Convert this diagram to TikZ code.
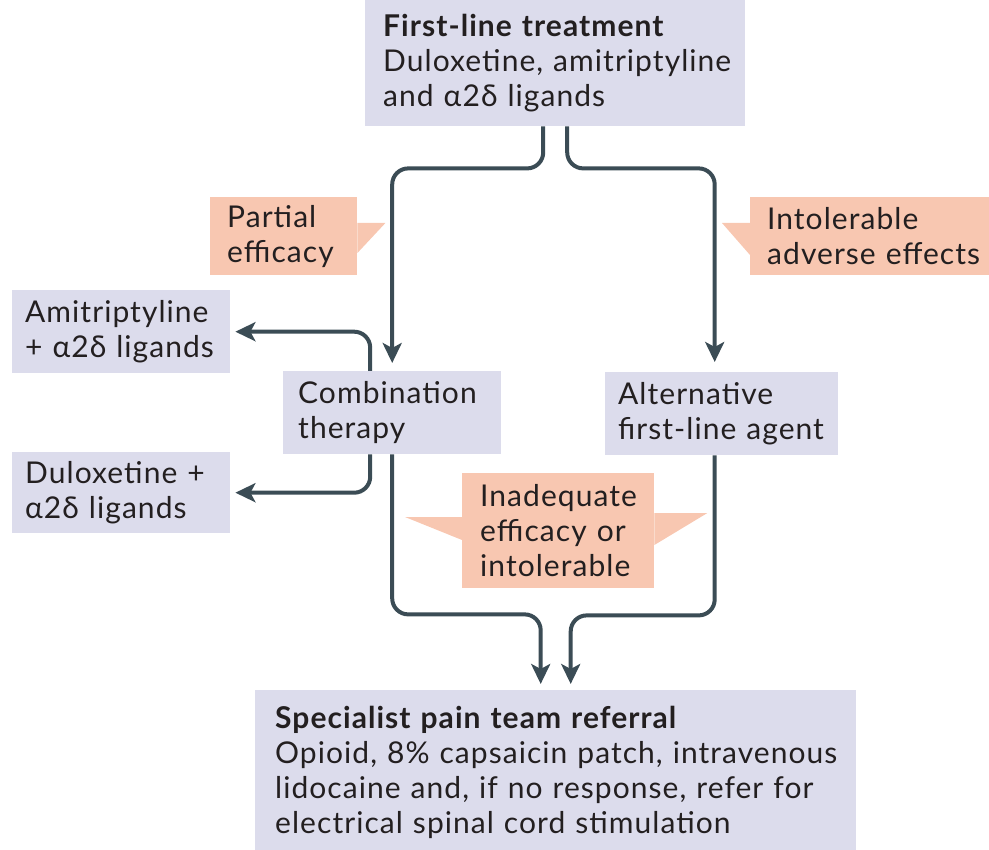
\documentclass[tikz,border=0pt]{standalone}
\usepackage{fontspec}
\setmainfont[LetterSpace=3.5]{Lato}
\usetikzlibrary{arrows.meta}
\definecolor{boxfill}{HTML}{DCDCEC}
\definecolor{notefill}{HTML}{F8C7B1}
\definecolor{linecol}{HTML}{3B4C55}
\definecolor{textcol}{HTML}{231F20}
\tikzset{
flow/.style={line width=4pt, draw=linecol, rounded corners=16pt,
  -{Stealth[length=20pt, width=19pt, inset=5pt]}}, % thick dark connectors
box/.style={fill=boxfill}, % lavender step boxes
note/.style={fill=notefill}, % salmon flags with a pointer
}

\begin{document}
\begin{tikzpicture}[
  x=1pt, y=-1pt,
  every node/.style={text=textcol, font=\fontsize{30}{35}\selectfont,
    inner xsep=15pt, inner ysep=0pt, align=left, anchor=north west,
    execute at begin node={\rightskip=0pt plus 1fil minus 40pt}} % lines may run a bit long, never break
]
  \useasboundingbox (0,0) rectangle (989,850);

  % step boxes
  \node[box, minimum width=380pt, minimum height=126pt, text width=344pt, inner xsep=18pt] (first) at (365,0)
    {\textbf{First-line treatment}\\Duloxetine, amitriptyline\\and α2δ ligands};
  \node[box, minimum width=218pt, minimum height=83pt, text width=192pt, inner xsep=13pt] (ami) at (12,290)
    {Amitriptyline\\+ α2δ ligands};
  \node[box, minimum width=218pt, minimum height=81pt, text width=192pt, inner xsep=13pt] (dul) at (12,452)
    {Duloxetine +\\α2δ ligands};
  \node[box, minimum width=218pt, minimum height=83pt, text width=188pt] (combo) at (283,371)
    {Combination\\therapy};
  \node[box, minimum width=233pt, minimum height=83pt, text width=207pt, inner xsep=13pt] (alt) at (605,372)
    {Alternative\\first-line agent};
  \node[box, minimum width=601pt, minimum height=165pt, text width=561pt, inner xsep=20pt] (spec) at (255,690)
    {\textbf{Specialist pain team referral}\\Opioid, 8\% capsaicin patch, intravenous\\lidocaine and, if no response, refer for\\electrical spinal cord stimulation};

  % flags
  \node[note, minimum width=147pt, minimum height=78pt, text width=113pt, inner xsep=17pt] (partial) at (210,197)
    {Partial\\efficacy};
  \fill[notefill] ([yshift=-26pt]partial.north east) -- ++(28,0) -- ([yshift=-56pt]partial.north east) -- cycle;

  \node[note, minimum width=239pt, minimum height=78pt, text width=205pt, inner xsep=17pt] (intol) at (750,197)
    {Intolerable\\adverse effects};
  \fill[notefill] ([yshift=-26pt]intol.north west) -- ++(-28,0) -- ([yshift=-58pt]intol.north west) -- cycle;

  \node[note, minimum width=192pt, minimum height=115pt, text width=156pt, inner xsep=18pt] (inadeq) at (462,473)
    {Inadequate\\efficacy or\\intolerable};
  \fill[notefill] ([yshift=-44pt]inadeq.north west) -- ++(-57,0) -- ([yshift=-67pt]inadeq.north west) -- cycle;
  \fill[notefill] ([yshift=-40pt]inadeq.north east) -- ++(53,0) -- ([yshift=-72pt]inadeq.north east) -- cycle;

  % connectors
  \draw[flow, shorten >=8pt] ([xshift=-12pt]first.south) -- ++(0,42) -| (combo.north);
  \draw[flow, shorten >=10pt] ([xshift=12pt]first.south) -- ++(0,42) -| ([xshift=-7pt]alt.north);
  \draw[flow, shorten >=5pt] ([xshift=-22pt]combo.north) |- (ami.east);
  \draw[flow, shorten >=5pt] ([xshift=-22pt]combo.south) |- (dul.east);
  \draw[flow, shorten >=6pt] (combo.south) -- ++(0,160) -| ([xshift=-15pt]spec.north);
  \draw[flow, shorten >=6pt] ([xshift=-7pt]alt.south) -- ++(0,160) -| ([xshift=15pt]spec.north);
\end{tikzpicture}
\end{document}
